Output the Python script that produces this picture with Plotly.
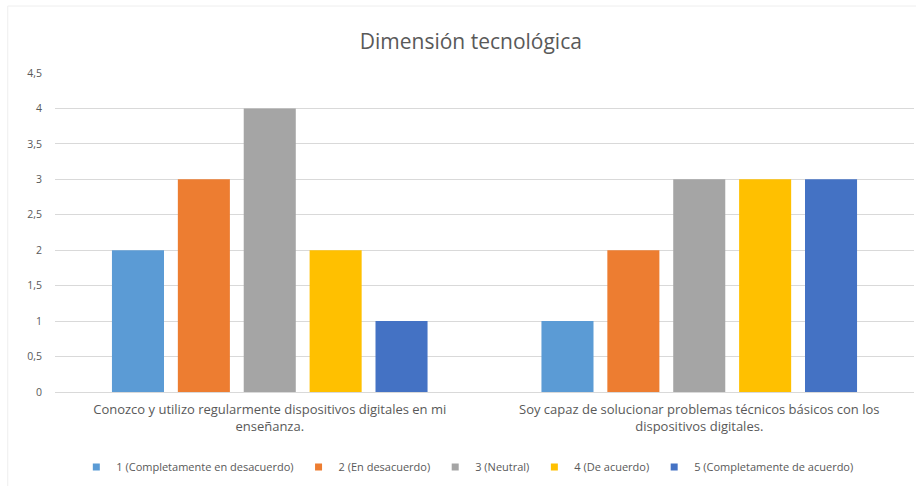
import plotly.graph_objects as go

# Survey results, technological dimension
categories = [
    "Conozco y utilizo regularmente dispositivos digitales en mi<br>enseñanza.",
    "Soy capaz de solucionar problemas técnicos básicos con los<br>dispositivos digitales.",
]
series_names = [
    "1 (Completamente en desacuerdo)",
    "2 (En desacuerdo)",
    "3 (Neutral)",
    "4 (De acuerdo)",
    "5 (Completamente de acuerdo)",
]
series_values = [
    [2, 1],
    [3, 2],
    [4, 3],
    [2, 3],
    [1, 3],
]
colors = ["#5B9BD5", "#ED7D31", "#A5A5A5", "#FFC000", "#4472C4"]
y_ticks = [0, 0.5, 1, 1.5, 2, 2.5, 3, 3.5, 4, 4.5]

FONT = "Open Sans, Liberation Sans, sans-serif"
GRAY = "#595959"

fig = go.Figure()
for name, vals, col in zip(series_names, series_values, colors):
    fig.add_trace(go.Bar(
        x=categories, y=vals, name=name, marker_color=col,
        marker_line_width=0, showlegend=False, legendgroup=name,
    ))
# Small square legend keys
for name, col in zip(series_names, colors):
    fig.add_trace(go.Scatter(
        x=[None], y=[None], mode="markers", name=name, legendgroup=name,
        marker=dict(symbol="square", size=7, color=col),
    ))

fig.update_layout(
    width=916, height=486,
    margin=dict(l=55, r=2, t=73, b=94, autoexpand=False),
    paper_bgcolor="white", plot_bgcolor="white",
    separators=",.",
    barmode="group", bargap=0.233, bargroupgap=0.21,
    title=dict(text="Dimensión tecnológica", xref="container", x=0.514,
               xanchor="center", y=0.915, yanchor="middle",
               font=dict(family=FONT, size=21, color=GRAY)),
    font=dict(family=FONT, size=10, color=GRAY),
    legend=dict(orientation="h", x=0.48, xanchor="center",
                y=-0.235, yanchor="middle",
                font=dict(size=11, color=GRAY),
                itemwidth=30, tracegroupgap=0, traceorder="normal"),
    xaxis=dict(showgrid=False, showline=True, linecolor="#D9D9D9",
               tickfont=dict(size=13, color=GRAY), ticks="",
               tickangle=0, automargin=False, ticklabelstandoff=5),
    yaxis=dict(range=[0, 4.5], tickvals=y_ticks, showgrid=True,
               gridcolor="#D9D9D9", gridwidth=1, zeroline=False,
               showline=False, tickfont=dict(size=10.5, color=GRAY),
               automargin=False, ticklabelstandoff=12),
    shapes=[dict(type="rect", xref="paper", yref="paper",
                 x0=-0.055, x1=1.02, y0=-0.35, y1=1.21,
                 line=dict(color="#EEEEEE", width=1), layer="below")],
)

fig.write_html("out.html")
